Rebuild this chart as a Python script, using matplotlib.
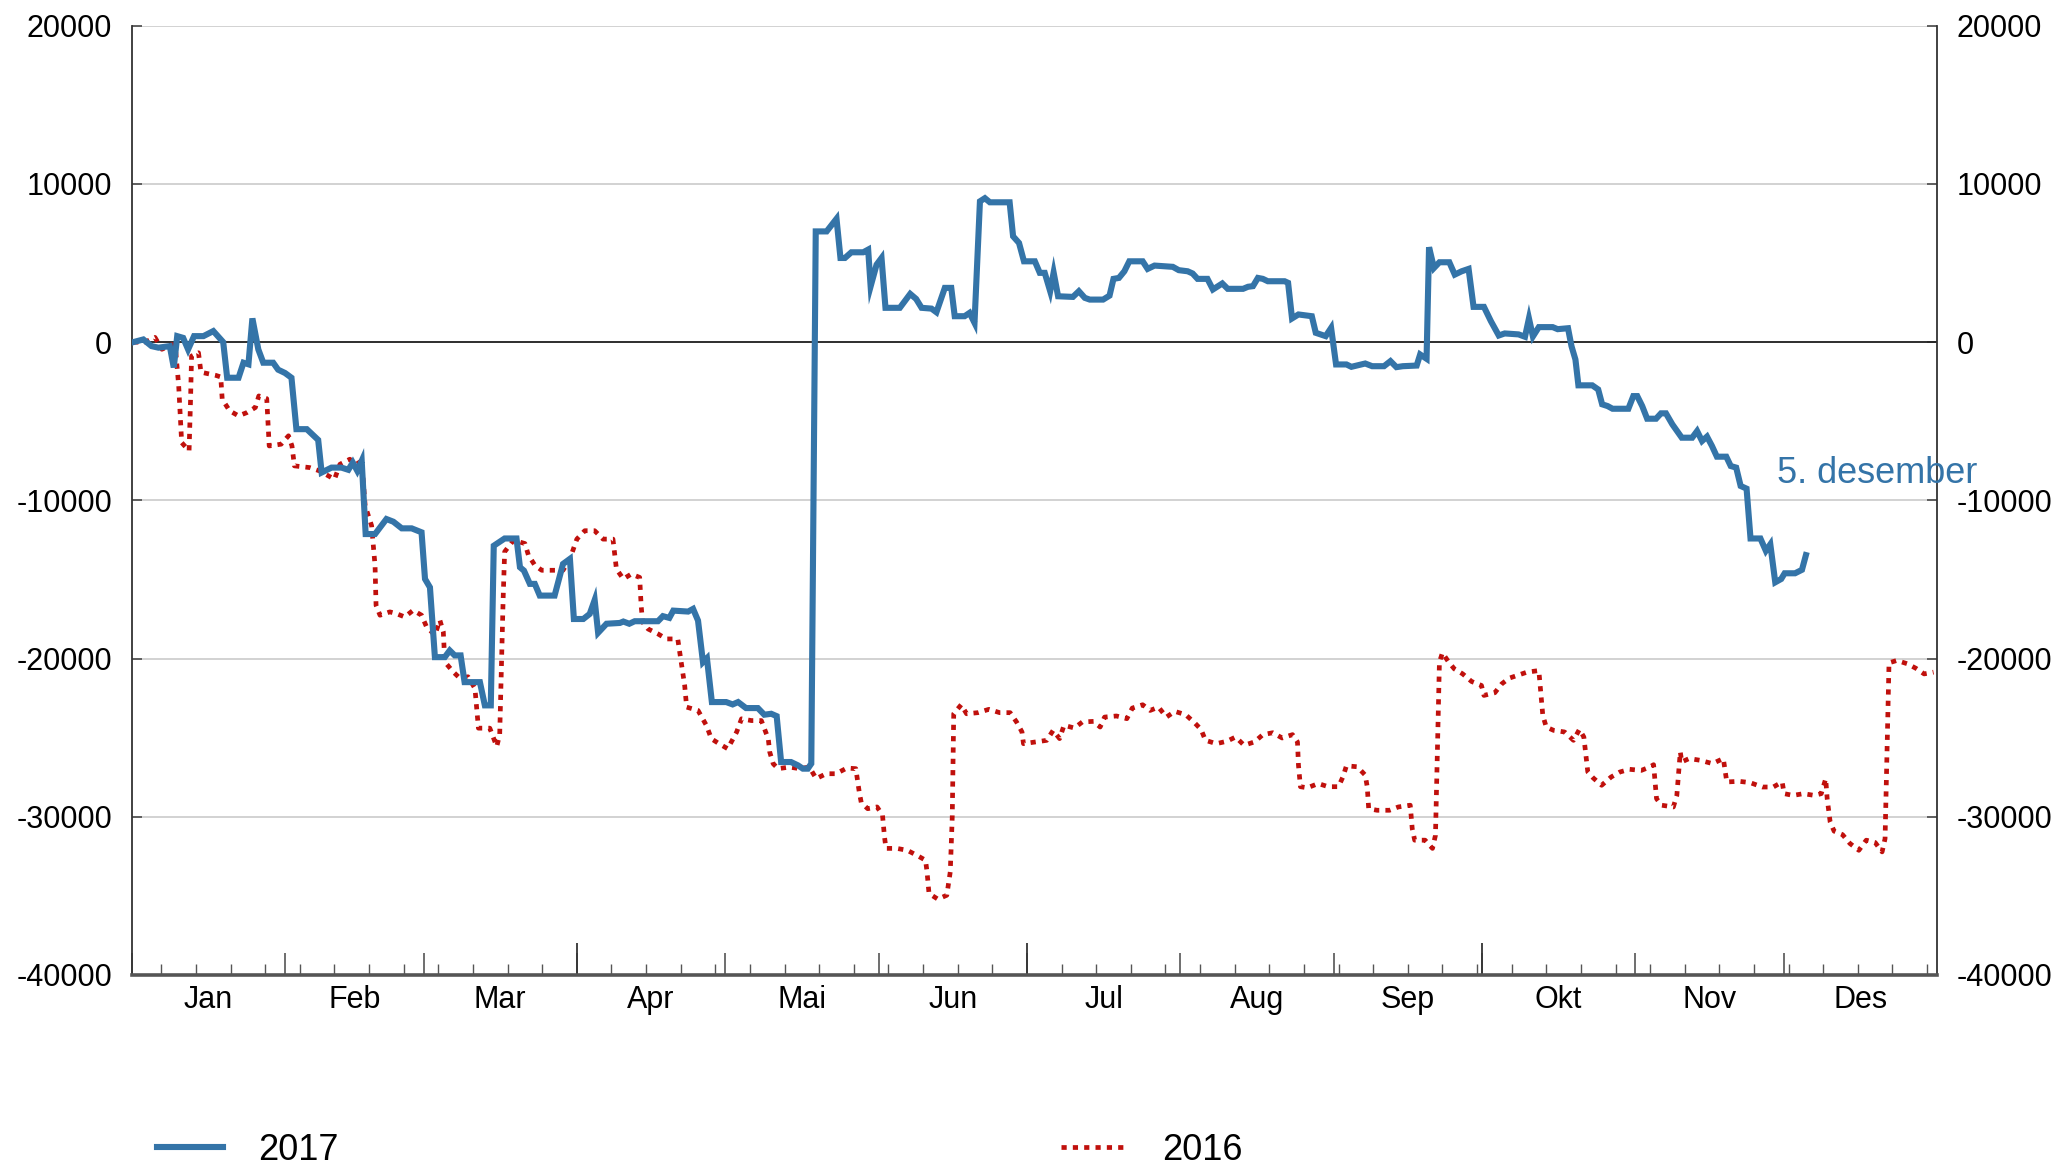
import numpy as np
import matplotlib
matplotlib.use("Agg")
import matplotlib.pyplot as plt
from matplotlib import rcParams

rcParams['font.family'] = ['Liberation Sans', 'DejaVu Sans']

# day of year (0 = 1. jan) and value
days_2017 = [0.3, 2.35, 4.0, 5.4, 7.7, 8.5, 9.2, 10.4, 11.4, 12.6, 14.5, 16.5, 18.5, 19.3, 21.6, 22.6,
             23.6, 24.4, 25.6, 26.6, 28.6, 29.6, 31.0, 32.3, 33.3, 35.4, 37.7, 38.4, 40.4, 42.4, 43.8,
             44.7, 45.6, 46.5, 47.3, 49.2, 51.5, 52.9, 54.6, 56.6, 58.6, 59.3, 60.3, 61.3, 63.3, 64.3,
             65.3, 66.5, 67.3, 70.4, 71.4, 72.6, 73.2, 75.4, 77.8, 78.5, 79.3, 80.5, 81.5, 82.5, 85.5,
             87.2, 88.6, 89.4, 91.3, 92.6, 93.6, 94.3, 96.0, 98.7, 99.4, 100.6, 101.7, 106.4, 107.4,
             108.7, 109.5, 112.5, 113.5, 114.5, 115.5, 116.3, 117.3, 120.2, 121.5, 122.6, 124.2, 126.6,
             127.9, 129.3, 130.4, 131.3, 133.3, 134.7, 135.7, 136.7, 137.4, 138.3, 140.5, 142.5, 143.3,
             144.2, 145.5, 147.9, 148.9, 149.4, 150.6, 151.6, 152.4, 155.3, 157.4, 158.6, 159.7, 161.7,
             162.7, 164.4, 165.7, 166.4, 168.4, 169.4, 170.4, 171.5, 172.5, 173.5, 177.5, 178.2, 179.4,
             180.4, 182.6, 183.6, 184.6, 185.7, 186.4, 187.3, 190.3, 191.5, 192.7, 193.7, 196.4, 197.7,
             198.5, 199.6, 200.7, 201.7, 204.4, 205.4, 206.8, 210.5, 211.7, 213.5, 214.5, 215.5, 217.5,
             218.6, 220.5, 221.6, 224.7, 225.7, 226.7, 227.7, 228.7, 229.7, 233.1, 233.8, 234.6, 235.9,
             238.6, 239.4, 241.4, 242.5, 243.5, 245.6, 246.6, 249.4, 250.8, 253.2, 254.5, 255.7, 257.0,
             259.8, 260.5, 261.8, 262.3, 263.3, 264.4, 266.4, 267.5, 268.9, 270.3, 271.3, 273.4, 274.8,
             276.4, 277.6, 280.4, 281.7, 282.5, 283.3, 284.5, 287.3, 288.3, 290.4, 291.1, 291.9, 292.5,
             295.3, 296.5, 297.3, 298.4, 299.4, 302.6, 303.6, 304.4, 305.4, 306.4, 308.2, 309.2, 310.2,
             311.5, 313.4, 315.5, 316.5, 317.5, 318.5, 319.5, 320.5, 322.4, 323.3, 324.4, 325.3, 326.5,
             327.3, 329.3, 330.4, 331.3, 332.3, 333.5, 334.2, 336.3, 337.7, 338.5]
vals_2017 = [0, 170, -250, -350, -250, -1600, 380, 270, -460, 380, 380, 700, 0, -2250, -2250, -1300,
             -1400, 1500, -460, -1300, -1300, -1740, -1950, -2250, -5500, -5500, -6180, -8240, -7930, -7930, -8070,
             -7610, -8130, -7500, -12130, -12130, -11180, -11350, -11770, -11770, -12020, -14970, -15500, -19910, -19910, -19490,
             -19800, -19800, -21490, -21490, -22960, -22960, -12870, -12410, -12410, -14230, -14440, -15280, -15280, -16020, -16020,
             -14020, -13700, -17500, -17500, -17180, -16300, -18370, -17800, -17750, -17660, -17800, -17640, -17640, -17320,
             -17430, -16970, -17030, -16860, -17600, -20230, -19980, -22750, -22750, -22900, -22750, -23130, -23130,
             -23550, -23490, -23640, -26540, -26540, -26750, -26960, -26960, -26640, 7000, 7000, 7800, 5320,
             5320, 5680, 5680, 5850, 3530, 4900, 5320, 2170, 2170, 3050, 2730, 2170, 2120,
             1890, 3430, 3430, 1640, 1640, 1850, 1220, 8900, 9100, 8840, 8840, 6690, 6270,
             5110, 5110, 4380, 4380, 3220, 4400, 2900, 2860, 3220, 2800, 2690, 2690, 2940,
             4000, 4060, 4480, 5110, 5110, 4630, 4840, 4760, 4550, 4480, 4340, 4000, 4000,
             3330, 3710, 3370, 3370, 3500, 3540, 4060, 4000, 3850, 3850, 3750, 1500, 1750,
             1640, 590, 380, 900, -1410, -1410, -1560, -1350, -1520, -1520, -1200, -1580, -1520,
             -1480, -780, -1050, 6000, 4690, 5050, 5050, 4270, 4480, 4630, 2230, 2230, 1330,
             420, 550, 490, 340, 1500, 360, 950, 950, 820, 880, -250, -1100, -2730,
             -2730, -2990, -3930, -4040, -4210, -4210, -3410, -3410, -4040, -4840, -4840, -4500, -4500,
             -5200, -6040, -6040, -5620, -6250, -5970, -6560, -7240, -7240, -7830, -7930, -9090, -9260,
             -12410, -12410, -13190, -12780, -15180, -14970, -14610, -14610, -14390, -13460]

days_2016 = [0.3, 2.7, 4.7, 6.1, 8.2, 8.9, 9.5, 10.1, 11.6, 11.9, 12.1, 13.5, 14.0, 17.0, 18.0, 18.3,
             19.8, 21.6, 23.3, 25.0, 25.7, 27.3, 27.8, 30.2, 31.7, 32.4, 32.9, 36.0, 38.0, 41.0, 42.1,
             44.1, 45.4, 46.5, 47.2, 48.5, 49.2, 49.4, 50.2, 52.2, 53.5, 55.2, 56.9, 58.6, 59.6, 61.3,
             62.3, 63.0, 63.3, 65.0, 66.4, 68.0, 69.4, 70.1, 72.4, 73.8, 74.4, 75.1, 75.4, 77.2, 79.5,
             80.2, 81.5, 82.9, 87.2, 88.6, 90.0, 91.6, 93.6, 95.3, 97.3, 98.0, 99.4, 101.0, 102.7, 103.0,
             103.3, 104.4, 106.4, 108.1, 110.4, 111.1, 111.8, 112.2, 114.5, 116.2, 117.2, 118.8, 120.5,
             122.3, 123.3, 125.3, 127.3, 128.7, 129.0, 129.7, 130.7, 133.0, 135.0, 137.0, 138.4, 140.4,
             142.4, 144.6, 146.4, 146.8, 147.1, 147.5, 148.8, 150.7, 151.8, 152.2, 152.5, 154.7, 156.8,
             158.7, 160.5, 160.8, 161.2, 163.0, 164.8, 165.5, 165.9, 166.2, 167.7, 168.8, 171.1, 173.3,
             175.5, 177.6, 178.9, 180.0, 180.3, 182.7, 185.0, 186.3, 187.6, 188.5, 190.6, 192.2, 194.5,
             195.8, 196.7, 199.1, 201.2, 202.3, 204.4, 205.9, 207.6, 209.2, 210.9, 213.1, 214.9, 216.2,
             217.1, 219.3, 221.4, 223.2, 224.9, 227.0, 228.7, 230.7, 232.6, 234.7, 235.7, 235.9, 236.3,
             237.7, 239.9, 241.9, 244.0, 244.9, 245.6, 247.8, 249.4, 249.8, 250.1, 251.8, 254.3, 256.1,
             258.5, 258.9, 259.4, 261.5, 263.0, 263.6, 264.4, 265.0, 266.2, 267.4, 269.1, 270.9, 272.9,
             273.4, 275.6, 277.0, 278.5, 280.1, 282.1, 284.5, 285.3, 286.0, 287.5, 289.7, 291.5, 292.7,
             293.6, 294.4, 295.5, 297.2, 299.1, 300.9, 302.8, 305.2, 306.9, 307.7, 308.3, 309.3, 311.7,
             312.4, 313.1, 313.4, 314.9, 317.1, 319.6, 321.8, 322.5, 325.0, 327.2, 329.7, 331.9, 333.7,
             334.1, 335.9, 338.0, 340.2, 341.6, 342.5, 342.8, 343.4, 344.2, 345.9, 347.4, 349.2, 350.7,
             352.5, 353.9, 354.5, 355.3, 356.9, 359.0, 360.7, 362.4, 364.3]
vals_2016 = [0, 0, 300, -450, -150, -570, -2770, -6350, -6870, -3610, -880, -670, -1900, -2100, -2200, -3610,
             -4340, -4660, -4450, -4130, -3400, -3570, -6560, -6450, -5920, -6560, -7820, -7930, -8140, -8670, -7720,
             -7400, -7720, -7500, -10340, -11600, -14130, -16630, -17260, -17050, -17160, -17370, -16950, -17260, -17990, -18520,
             -17570, -18310, -20210, -20840, -21260, -21150, -21890, -24400, -24400, -25560, -24820, -16200, -13250, -12520, -12730,
             -13460, -14100, -14420, -14420, -13700, -12450, -11920, -11920, -12450, -12450, -14340, -14970, -14660, -14870, -16660,
             -17700, -18130, -18440, -18760, -18760, -20230, -21700, -23070, -23280, -24230, -25070, -25390, -25700,
             -24650, -23810, -23920, -23920, -25070, -25910, -26650, -26960, -26860, -26960, -26860, -27590, -27280,
             -27280, -26920, -26960, -27800, -28440, -29100, -29490, -29380, -29900, -31270, -32000, -32000, -32120,
             -32430, -32750, -33480, -34850, -35210, -34960, -33480, -30010, -23490, -22920, -23490, -23420, -23210,
             -23420, -23420, -24010, -24640, -25380, -25270, -25170, -24540, -25060, -24220, -24390, -24010, -23970,
             -24330, -23700, -23630, -23800, -23130, -22920, -23280, -23070, -23700, -23340, -23550, -24060, -24480,
             -25170, -25380, -25230, -24960, -25480, -25270, -24810, -24690, -25020, -24810, -25270, -26740, -28100,
             -28170, -27900, -28100, -28100, -27470, -26780, -26840, -27370, -28100, -29490, -29590, -29590, -29380,
             -29270, -30750, -31480, -31480, -32000, -31170, -20230, -19640, -20190, -20650, -20970, -21450, -21700,
             -22330, -22160, -21600, -21240, -21070, -20860, -20760, -23590, -24330, -24540, -24640, -25170, -24480,
             -24960, -27170, -27550, -28010, -27490, -27170, -27000, -27070, -26860, -26710, -28860, -29270, -29380,
             -28650, -25900, -26530, -26320, -26430, -26640, -26320, -27800, -27760, -27840, -28120, -28120, -27800,
             -28540, -28650, -28540, -28650, -28540, -27600, -28860, -30330, -30910, -31130, -31690, -32120, -31480,
             -31630, -32220, -31380, -20270, -20120, -20330, -20610, -20970, -20860]

months = ['Jan', 'Feb', 'Mar', 'Apr', 'Mai', 'Jun', 'Jul', 'Aug', 'Sep', 'Okt', 'Nov', 'Des']
month_len = [31, 28, 31, 30, 31, 30, 31, 31, 30, 31, 30, 31]
yticks = [20000, 10000, 0, -10000, -20000, -30000, -40000]

blue = '#3474a8'
red = '#c0100c'

month_start = np.concatenate([[0], np.cumsum(month_len)[:-1]])
month_mid = month_start + np.array(month_len) / 2.0
quarter_start = month_start[[3, 6, 9]]
weeks = np.arange(6, 365, 7)

fig = plt.figure(figsize=(20.58, 11.70), dpi=100)
ax = fig.add_axes([0.064, 0.1667, 0.8772, 0.8113])

ax.plot(days_2016, vals_2016, color=red, lw=3.4, linestyle=(0, (1.1, 1.3)), label='2016', zorder=3)
ax.plot(days_2017, vals_2017, color=blue, lw=4.4, label='2017', zorder=4, solid_joinstyle='miter')

ax.set_xlim(0, 365)
ax.set_ylim(-40000, 20000)
ax.set_yticks(yticks)
ax.set_yticklabels([str(v) for v in yticks])
ax.grid(axis='y', color='#cfcfcf', lw=1.3, zorder=0)
ax.axhline(0, color='#222222', lw=1.3, zorder=2)

ax.tick_params(axis='y', direction='in', length=7, width=1.3, color='#555555',
               labelsize=22, pad=14, left=True, right=True, labelleft=True, labelright=True)

# x: month ticks (major), weekly ticks (minor), quarter ticks drawn longer
ax.set_xticks(month_start)
ax.set_xticklabels([])
ax.set_xticks(weeks, minor=True)
ax.tick_params(axis='x', which='major', direction='in', length=16, width=1.2, color='#555555')
ax.tick_params(axis='x', which='minor', direction='in', length=8, width=1.0, color='#555555')
ax.vlines(quarter_start, 0, 0.034, transform=ax.get_xaxis_transform(), color='#333333', lw=1.3)

sec = ax.secondary_xaxis('bottom')
sec.set_xticks(month_mid)
sec.set_xticklabels(months)
sec.tick_params(length=0, labelsize=22, pad=7)
sec.spines['bottom'].set_visible(False)

ax.spines['top'].set_visible(False)
ax.spines['bottom'].set_color('#555555')
ax.spines['bottom'].set_linewidth(2.6)
ax.spines['left'].set_color('#333333')
ax.spines['right'].set_color('#333333')
ax.spines['left'].set_linewidth(1.3)
ax.spines['right'].set_linewidth(1.3)

ax.text(332.7, -8300, '5. desember', color=blue, fontsize=26, va='center', ha='left', clip_on=False)

handles, labels = ax.get_legend_handles_labels()
fig.legend(handles[::-1], labels[::-1], loc='center left', bbox_to_anchor=(0.0763, 0.017),
           ncol=2, frameon=False, fontsize=26, handlelength=1.83, handletextpad=0.97,
           columnspacing=20.0, borderpad=0, borderaxespad=0)

fig.savefig('out.png', dpi=100)
